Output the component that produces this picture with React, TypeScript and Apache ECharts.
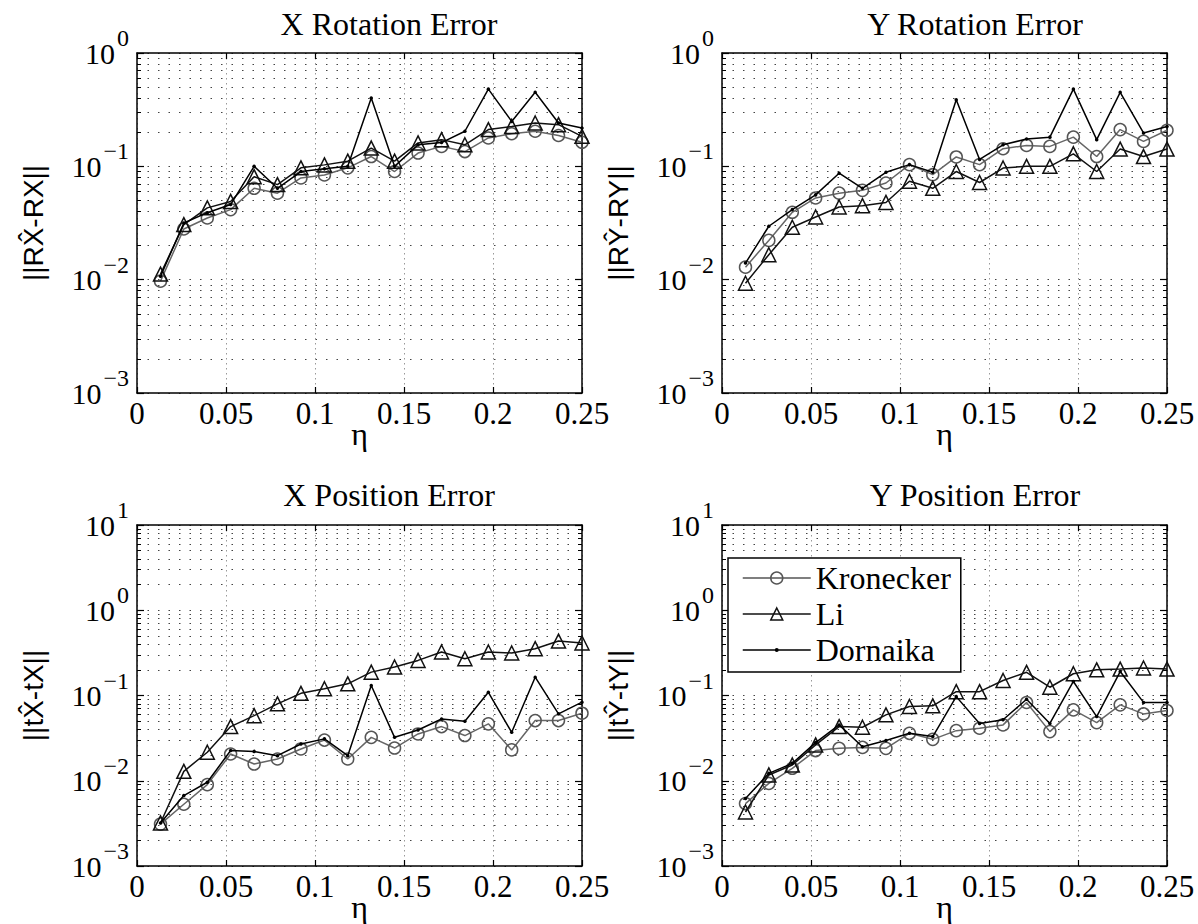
import React, { useEffect, useRef } from "react";
import * as echarts from "echarts";

// ---------------- data ----------------
const eta = [
  0.0132, 0.0263, 0.0395, 0.0526, 0.0658, 0.0789, 0.0921, 0.1053, 0.1184, 0.1316,
  0.1447, 0.1579, 0.1711, 0.1842, 0.1974, 0.2105, 0.2237, 0.2368, 0.25,
];
const seriesNames = ["Kronecker", "Li", "Dornaika"];
const panelTitles = ["X Rotation Error", "Y Rotation Error", "X Position Error", "Y Position Error"];
const panelYNames = ["||RX\u0302-RX||", "||RY\u0302-RY||", "||tX\u0302-tX||", "||tY\u0302-tY||"];
const panelYMin = [0.001, 0.001, 0.001, 0.001];
const panelYMax = [1, 1, 10, 10];

const xRotKronecker = [0.0097, 0.028, 0.035, 0.0415, 0.064, 0.058, 0.079, 0.084, 0.097, 0.122, 0.09, 0.131, 0.15, 0.135, 0.178, 0.194, 0.204, 0.187, 0.163];
const xRotLi = [0.0112, 0.0306, 0.043, 0.049, 0.081, 0.069, 0.097, 0.103, 0.111, 0.145, 0.111, 0.161, 0.172, 0.155, 0.211, 0.225, 0.241, 0.233, 0.184];
const xRotDornaika = [0.0107, 0.0316, 0.039, 0.046, 0.1, 0.064, 0.09, 0.095, 0.1, 0.4, 0.1, 0.155, 0.162, 0.204, 0.48, 0.249, 0.45, 0.241, 0.218];
const yRotKronecker = [0.0129, 0.0222, 0.0393, 0.0526, 0.058, 0.0614, 0.0713, 0.1035, 0.0844, 0.121, 0.1035, 0.143, 0.153, 0.15, 0.181, 0.122, 0.211, 0.166, 0.208];
const yRotLi = [0.0093, 0.0166, 0.029, 0.0357, 0.0438, 0.045, 0.048, 0.0738, 0.064, 0.09, 0.072, 0.0966, 0.1, 0.1, 0.129, 0.09, 0.142, 0.122, 0.142];
const yRotDornaika = [0.014, 0.0296, 0.0415, 0.056, 0.087, 0.064, 0.0886, 0.1035, 0.0886, 0.387, 0.115, 0.155, 0.174, 0.181, 0.48, 0.172, 0.45, 0.197, 0.225];
const xPosKronecker = [0.0031, 0.0053, 0.009, 0.0206, 0.0157, 0.018, 0.0236, 0.03, 0.018, 0.0323, 0.0242, 0.0354, 0.0432, 0.0339, 0.0465, 0.023, 0.0508, 0.0508, 0.062];
const xPosLi = [0.0032, 0.0129, 0.0216, 0.0432, 0.058, 0.0798, 0.106, 0.12, 0.137, 0.188, 0.216, 0.258, 0.324, 0.27, 0.324, 0.315, 0.354, 0.435, 0.413];
const xPosDornaika = [0.0032, 0.0067, 0.0096, 0.0226, 0.0221, 0.0197, 0.027, 0.031, 0.0197, 0.131, 0.0323, 0.0394, 0.053, 0.0499, 0.109, 0.037, 0.164, 0.061, 0.0835];
const yPosKronecker = [0.0054, 0.0093, 0.014, 0.0226, 0.024, 0.0246, 0.024, 0.036, 0.0306, 0.0387, 0.0413, 0.0452, 0.0828, 0.0377, 0.0678, 0.0481, 0.0777, 0.0608, 0.0667];
const yPosLi = [0.0043, 0.0117, 0.0153, 0.0263, 0.0432, 0.0424, 0.0593, 0.0743, 0.0756, 0.111, 0.111, 0.15, 0.187, 0.125, 0.18, 0.2, 0.204, 0.21, 0.204];
const yPosDornaika = [0.0062, 0.0122, 0.016, 0.028, 0.0452, 0.0251, 0.0296, 0.036, 0.033, 0.097, 0.047, 0.052, 0.0905, 0.047, 0.146, 0.0566, 0.191, 0.083, 0.083];

const panelData = [
  [xRotKronecker, xRotLi, xRotDornaika],
  [yRotKronecker, yRotLi, yRotDornaika],
  [xPosKronecker, xPosLi, xPosDornaika],
  [yPosKronecker, yPosLi, yPosDornaika],
];

// ---------------- layout / styles ----------------
const SERIF = "Liberation Serif, Times New Roman, serif";
const SANS = "Liberation Sans, Arial, sans-serif";

const gridRects = [
  { left: 137, top: 53, width: 445, height: 340 },
  { left: 722, top: 53, width: 445, height: 340 },
  { left: 137, top: 525, width: 445, height: 342 },
  { left: 722, top: 525, width: 445, height: 342 },
];
const titlePos = [
  { x: 384, y: 3 },
  { x: 970, y: 3 },
  { x: 384, y: 474 },
  { x: 970, y: 474 },
];

const seriesStyles = [
  { symbol: "circle", symbolSize: 12, lineStyle: { color: "#666", width: 1.5 }, itemStyle: { color: "rgba(0,0,0,0)", borderColor: "#555", borderWidth: 1.5 } },
  { symbol: "triangle", symbolSize: 14, lineStyle: { color: "#111", width: 1.5 }, itemStyle: { color: "rgba(0,0,0,0)", borderColor: "#111", borderWidth: 1.5 } },
  { symbol: "circle", symbolSize: 3.5, lineStyle: { color: "#000", width: 1.5 }, itemStyle: { color: "#000", borderWidth: 0 } },
];

const axisLineStyle = { color: "#000", width: 1.5 };
const dotGrid = { color: "#444", type: [1.5, 9] as number[], width: 1 };

function logLabel(v: number) {
  const e = Math.round(Math.log10(v));
  const s = e < 0 ? "\u2212" + -e : String(e);
  return "{b|10}{s|" + s + "}";
}

function buildOption() {
  const xAxis: any[] = [];
  const yAxis: any[] = [];
  const series: any[] = [];
  const title: any[] = [];

  gridRects.forEach((_, g) => {
    title.push({
      text: panelTitles[g], left: titlePos[g].x, top: titlePos[g].y, textAlign: "center",
      textStyle: { fontFamily: SERIF, fontSize: 32, fontWeight: "normal", color: "#000" },
    });
    xAxis.push({
      type: "value", gridIndex: g, min: 0, max: 0.25, interval: 0.05, position: "bottom",
      axisLine: { show: true, onZero: false, lineStyle: axisLineStyle },
      axisTick: { show: true, inside: true, length: 6, lineStyle: { color: "#000", width: 1.2 } },
      axisLabel: { margin: 5, fontFamily: SERIF, fontSize: 31, color: "#000" },
      splitLine: { show: true, lineStyle: { color: "#999", type: [1.5, 3.5], width: 1 } },
      name: "\u03b7", nameLocation: "middle", nameGap: 25, nameMoveOverlap: false,
      nameTextStyle: { fontFamily: SERIF, fontSize: 32, color: "#000" },
    });
    xAxis.push({
      type: "value", gridIndex: g, min: 0, max: 0.25, interval: 0.05, position: "top",
      axisLine: { show: true, onZero: false, lineStyle: axisLineStyle },
      axisTick: { show: true, inside: true, length: 6, lineStyle: { color: "#000", width: 1.2 } },
      axisLabel: { show: false }, splitLine: { show: false },
    });
    const yBase = {
      type: "log", logBase: 10, gridIndex: g, min: panelYMin[g], max: panelYMax[g],
      axisLine: { show: true, onZero: false, lineStyle: axisLineStyle },
      axisTick: { show: true, inside: true, length: 7, lineStyle: { color: "#000", width: 1.2 } },
      minorTick: { show: true, splitNumber: 9, length: 4, lineStyle: { color: "#000", width: 1 } },
    };
    yAxis.push({
      ...yBase, position: "left",
      axisLabel: {
        margin: 8, fontFamily: SERIF, formatter: logLabel,
        rich: {
          b: { fontFamily: SERIF, fontSize: 30, color: "#000", lineHeight: 30 },
          s: { fontFamily: SERIF, fontSize: 24, color: "#000", lineHeight: 24, padding: [0, 0, 30, 2] },
        },
      },
      splitLine: { show: true, lineStyle: dotGrid },
      minorSplitLine: { show: true, lineStyle: dotGrid },
      name: panelYNames[g], nameLocation: "middle", nameRotate: 90, nameGap: 90, nameMoveOverlap: false,
      nameTextStyle: { fontFamily: SANS, fontSize: 28, color: "#000" },
    });
    yAxis.push({
      ...yBase, position: "right", axisLabel: { show: false }, splitLine: { show: false }, minorSplitLine: { show: false },
    });
    panelData[g].forEach((vals, s) => {
      series.push({
        name: seriesNames[s], type: "line", xAxisIndex: 2 * g, yAxisIndex: 2 * g,
        data: eta.map((x, i) => [x, vals[i]]), showAllSymbol: true, z: 3 + s, ...seriesStyles[s],
      });
    });
  });

  return {
    animation: false,
    backgroundColor: "#fff",
    textStyle: { fontFamily: SERIF, color: "#000" },
    title,
    grid: gridRects.map((r) => ({ ...r, containLabel: false })),
    xAxis, yAxis, series,
    legend: {
      orient: "vertical", left: 728, top: 558, padding: [4, 10, 6, 14], itemGap: 4, itemWidth: 68, itemHeight: 15,
      borderColor: "#000", borderWidth: 1.5, borderRadius: 0, backgroundColor: "#fff", selectedMode: false, z: 10,
      textStyle: { fontFamily: SERIF, fontSize: 32, color: "#000", lineHeight: 30 },
      data: [
        { name: "Kronecker", itemStyle: { color: "rgba(0,0,0,0)", borderColor: "#555", borderWidth: 1.5 }, lineStyle: { color: "#555", width: 1.5 } },
        { name: "Li", itemStyle: { color: "rgba(0,0,0,0)", borderColor: "#111", borderWidth: 1.5 }, lineStyle: { color: "#111", width: 1.5 } },
        { name: "Dornaika", icon: "path://M0,1.25 L68,1.25 L68,2.75 L0,2.75 Z M34,0 A2,2 0 1 1 34,4 A2,2 0 1 1 34,0 Z", itemStyle: { color: "#000", borderWidth: 0 } },
      ],
    },
  };
}

export default function App() {
  const ref = useRef<HTMLDivElement>(null);
  useEffect(() => {
    if (!ref.current) return;
    const chart = echarts.init(ref.current, undefined, { renderer: "svg" });
    chart.setOption(buildOption() as any);
    return () => chart.dispose();
  }, []);
  return <div ref={ref} style={{ position: "fixed", left: 0, top: 0, width: 1198, height: 924, background: "#fff" }} />;
}
